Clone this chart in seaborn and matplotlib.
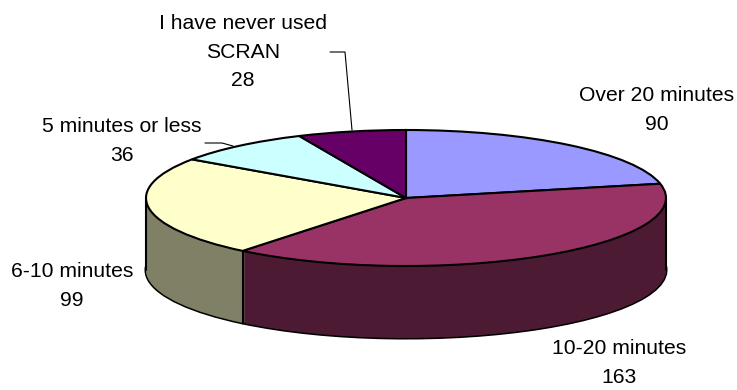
import matplotlib
matplotlib.use("Agg")
import matplotlib.pyplot as plt
from matplotlib.lines import Line2D
import numpy as np
import seaborn as sns

labels = ["Over 20 minutes", "10-20 minutes", "6-10 minutes", "5 minutes or less", "I have never used\nSCRAN"]
values = [90, 163, 99, 36, 28]
top_colors = ["#9999FF", "#993366", "#FFFFCC", "#CCFFFF", "#660066"]
side_colors = ["#4D4D80", "#4C1B33", "#808066", "#668080", "#330033"]

W, H = 737, 390
CX, CY, RX, RY, DEPTH = 406, 198, 260, 68, 72

sns.set_style("white")
plt.rcParams['font.family'] = ['Liberation Sans', 'DejaVu Sans']

fig = plt.figure(figsize=(W / 100, H / 100), dpi=100)
ax = fig.add_axes([0, 0, 1, 1])

# pie side: stack of pies pushed down, then the top face
depth = DEPTH / RY
ax.pie(values, startangle=90, counterclock=False, colors=side_colors, center=(0, -depth),
       wedgeprops=dict(edgecolor="black", linewidth=2.2))
for off in np.linspace(depth, 0, DEPTH + 1):
    ax.pie(values, startangle=90, counterclock=False, colors=side_colors, center=(0, -off),
           wedgeprops=dict(edgecolor="none", linewidth=0))
ax.pie(values, startangle=90, counterclock=False, colors=top_colors,
       wedgeprops=dict(edgecolor="black", linewidth=1.5))

ax.set_aspect("auto")
ax.set_xlim(-CX / RX, (W - CX) / RX)
ax.set_ylim((CY - H) / RY, CY / RY)
ax.axis("off")

# vertical edges of the side
theta = np.radians(np.cumsum(values) / sum(values) * 360)
front_x = np.sin(theta[1])
front_y = np.cos(theta[1])
ax.plot([front_x, front_x], [front_y, front_y - depth], color="black", lw=1.5)
ax.plot([-1, -1], [0, -depth], color="black", lw=1.5)
ax.plot([1, 1], [0, -depth], color="black", lw=1.5)


def px_line(xs, ys):
    fig.add_artist(Line2D([x / W for x in xs], [1 - y / H for y in ys], color="black", lw=0.8))


px_line([330, 345, 352], [52, 52, 130])
px_line([205, 222, 233], [143, 143, 146])

label_pos = [(657, 110), (619, 363), (72, 286), (122, 141), (243, 52)]
for name, val, (x, y) in zip(labels, values, label_pos):
    fig.text(x / W, 1 - y / H, f"{name}\n{val}", ha="center", va="center",
             fontsize=15.2, linespacing=1.62, color="black")

fig.savefig("out.png", dpi=100)
